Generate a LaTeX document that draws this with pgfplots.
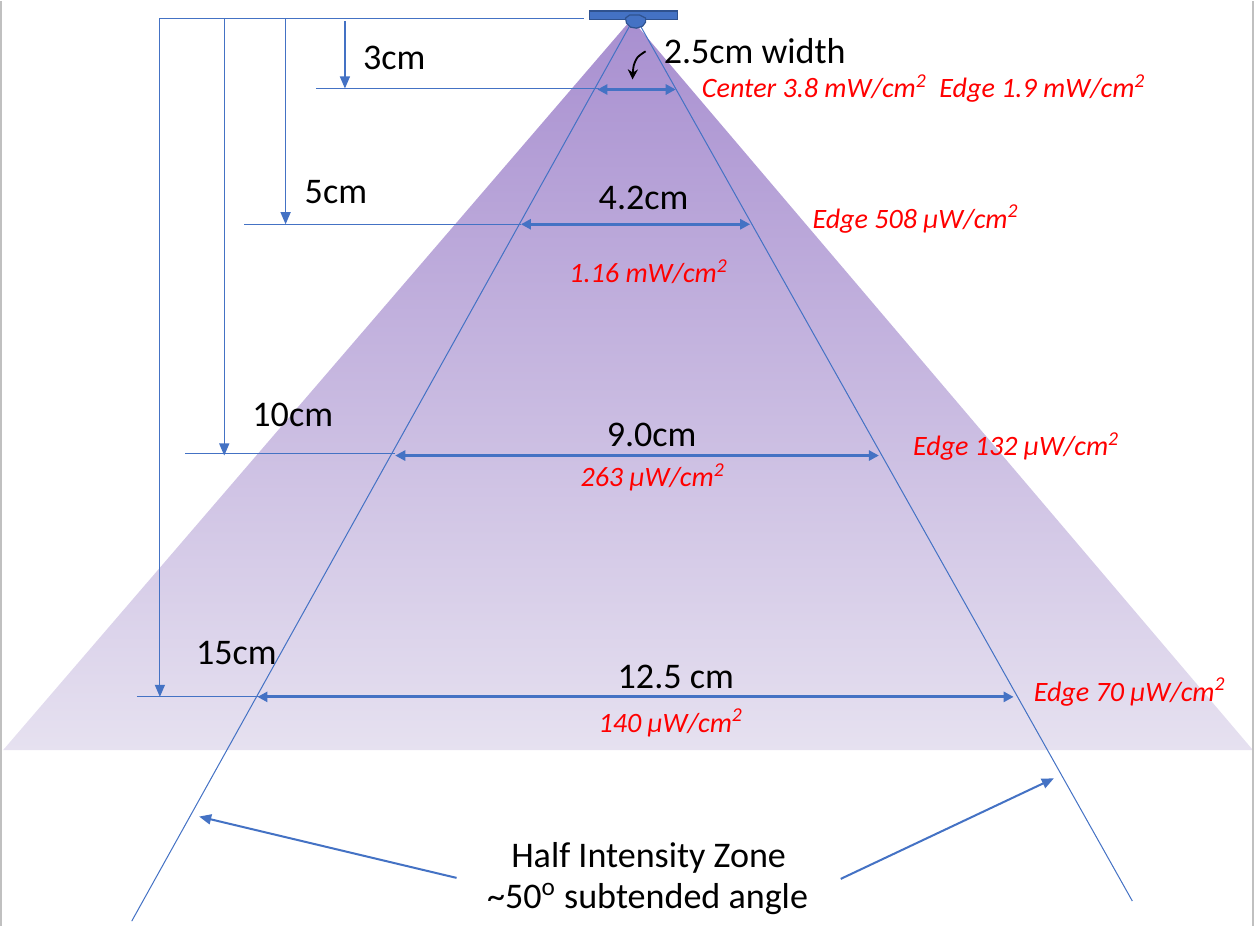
\documentclass[border=0pt]{standalone}
\usepackage{pgfplots}
\pgfplotsset{compat=1.18}
\usepackage{fontspec}
\setmainfont{Carlito}
\usetikzlibrary{arrows.meta}
\definecolor{lineblue}{RGB}{68,114,196}
\definecolor{darkblue}{RGB}{47,82,143}
\definecolor{conetop}{RGB}{168,143,208}
\definecolor{conebot}{RGB}{230,225,240}
\definecolor{frame}{RGB}{192,192,192}
\newcommand{\blk}{\fontsize{18}{21}\selectfont}
\newcommand{\rd}{\color{red}\itshape\fontsize{14}{17}\selectfont}
\newcommand{\sq}{\textsuperscript{2}}
\begin{document}
\begin{tikzpicture}
\begin{axis}[
  width=627bp, height=460bp, scale only axis,
  xmin=0, xmax=1254, ymin=0, ymax=920, y dir=reverse,
  hide axis, clip=false,
]
% light cone
\addplot[draw=none, top color=conetop, bottom color=conebot] coordinates {
(632,18) (1250,745) (7,745) (632,18)
};
% frame
\addplot[frame, line width=1bp] coordinates {(5,0) (5,920)};
\addplot[frame, line width=1bp] coordinates {(1250,0) (1250,920)};
% half-intensity lines
\addplot[lineblue, line width=0.5bp] coordinates {(630,25) (135,915)};
\addplot[lineblue, line width=0.5bp] coordinates {(641,25) (1130,895)};
% reference lines from source
\addplot[lineblue, line width=0.6bp] coordinates {(163,17) (585,17)};
\addplot[lineblue, line width=0.6bp, -{Triangle[length=6bp,width=5bp]}] coordinates {(163,17) (163,692)};
\addplot[lineblue, line width=0.6bp, -{Triangle[length=6bp,width=5bp]}] coordinates {(227,17) (227,452)};
\addplot[lineblue, line width=0.6bp, -{Triangle[length=6bp,width=5bp]}] coordinates {(288,17) (288,222)};
\addplot[lineblue, line width=0.6bp, -{Triangle[length=6bp,width=5bp]}] coordinates {(347,20) (347,87)};
% horizontal level lines
\addplot[lineblue, line width=0.5bp] coordinates {(318,87) (600,87)};
\addplot[lineblue, line width=0.5bp] coordinates {(247,222) (522,222)};
\addplot[lineblue, line width=0.5bp] coordinates {(188,450) (397,450)};
\addplot[lineblue, line width=0.5bp] coordinates {(140,692) (262,692)};
% width arrows
\addplot[lineblue, line width=1.6bp, {Triangle[length=5bp,width=5bp]}-{Triangle[length=5bp,width=5bp]}] coordinates {(598,88) (676,88)};
\addplot[lineblue, line width=1.6bp, {Triangle[length=5bp,width=5bp]}-{Triangle[length=5bp,width=5bp]}] coordinates {(522,222) (750,222)};
\addplot[lineblue, line width=1.6bp, {Triangle[length=5bp,width=5bp]}-{Triangle[length=5bp,width=5bp]}] coordinates {(397,452) (878,452)};
\addplot[lineblue, line width=1.6bp, {Triangle[length=5bp,width=5bp]}-{Triangle[length=5bp,width=5bp]}] coordinates {(260,692) (1012,692)};
% pointers to half-intensity lines
\addplot[lineblue, line width=1bp, -{Triangle[length=6bp,width=5bp]}] coordinates {(458,872) (202,811)};
\addplot[lineblue, line width=1bp, -{Triangle[length=6bp,width=5bp]}] coordinates {(840,873) (1052,773)};
% source
\addplot[fill=lineblue, draw=darkblue, line width=0.6bp] coordinates {
(590,10) (678,10) (678,18) (590,18) (590,10)
};
\addplot[fill=lineblue, draw=darkblue, line width=0.6bp] coordinates {
(626,17) (627,22) (631,26) (637,27) (643,25) (646,21) (646,17) (640,14) (630,14) (626,17)
};
% curved pointer for 2.5cm
\addplot[black, line width=0.9bp, smooth, -{Stealth[length=5bp,width=5bp]}] coordinates {(646,50) (638,56) (634,65) (633,78)};
% labels
\node[anchor=west, font=\blk] at (axis cs:358,57) {3cm};
\node[anchor=west, font=\blk] at (axis cs:657,50) {2.5cm width};
\node[anchor=west, font=\rd] at (axis cs:695,87) {Center 3.8 mW/cm\sq\ \ Edge 1.9 mW/cm\sq};
\node[anchor=west, font=\blk] at (axis cs:300,190) {5cm};
\node[font=\blk] at (axis cs:644,196) {4.2cm};
\node[anchor=west, font=\rd] at (axis cs:805,217) {Edge 508 μW/cm\sq};
\node[font=\rd] at (axis cs:649,269) {1.16 mW/cm\sq};
\node[anchor=west, font=\blk] at (axis cs:248,412) {10cm};
\node[font=\blk] at (axis cs:652,432) {9.0cm};
\node[anchor=west, font=\rd] at (axis cs:905,443) {Edge 132 μW/cm\sq};
\node[font=\rd] at (axis cs:653,474) {263 μW/cm\sq};
\node[anchor=west, font=\blk] at (axis cs:192,648) {15cm};
\node[font=\blk] at (axis cs:676,672) {12.5 cm};
\node[anchor=west, font=\rd] at (axis cs:1025,687) {Edge 70 μW/cm\sq};
\node[font=\rd] at (axis cs:671,718) {140 μW/cm\sq};
\node[font=\blk] at (axis cs:649,852) {Half Intensity Zone};
\node[font=\blk] at (axis cs:648,893) {\textasciitilde 50\textsuperscript{o} subtended angle};
\end{axis}
\end{tikzpicture}
\end{document}
